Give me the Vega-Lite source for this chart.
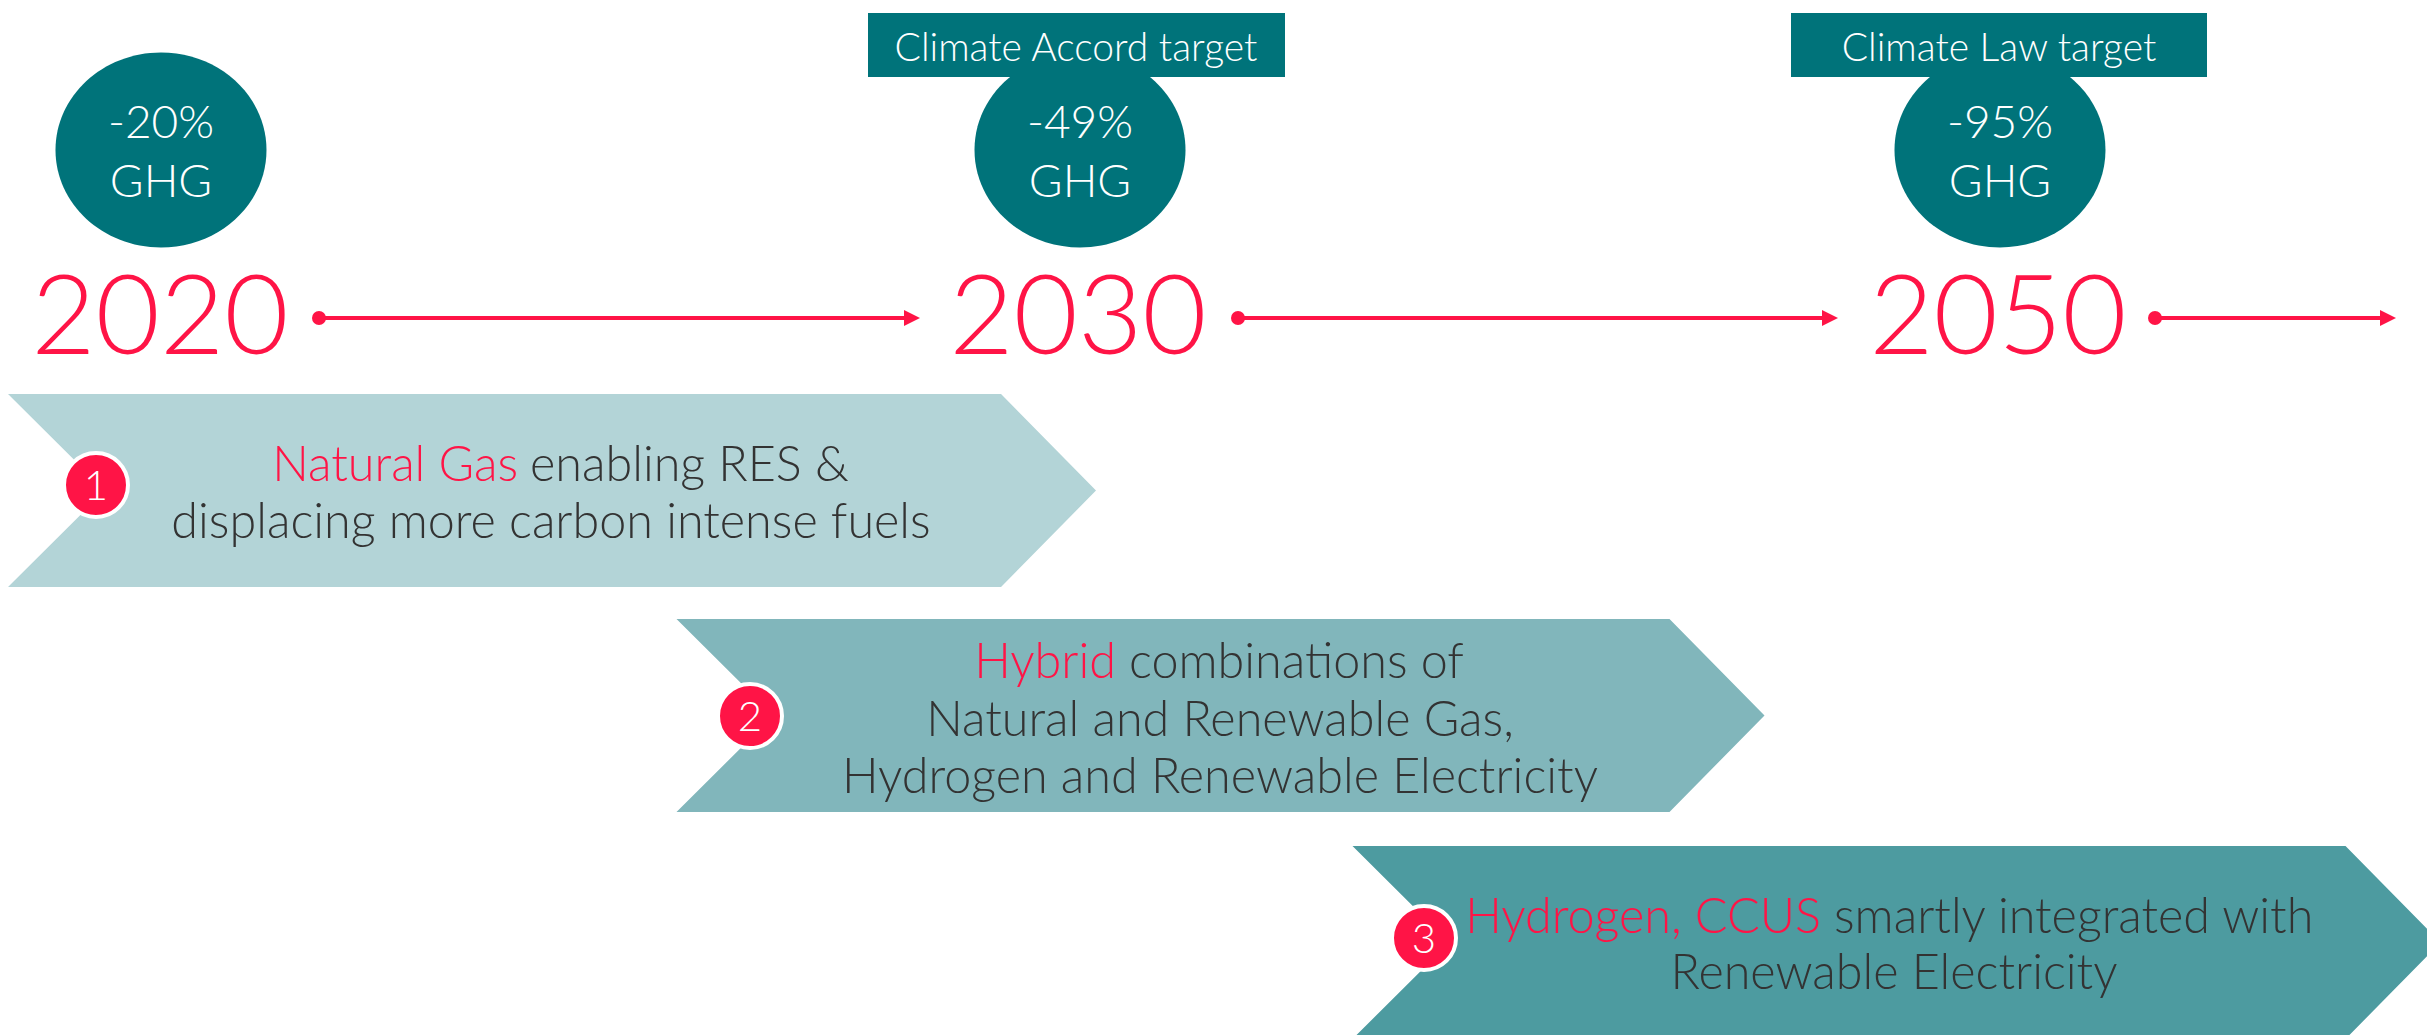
{
  "$schema": "https://vega.github.io/schema/vega-lite/v6.json",
  "width": 2427,
  "height": 1035,
  "autosize": {"type": "none"},
  "padding": 0,
  "background": "white",
  "config": {"view": {"stroke": null}, "text": {"font": "Lato", "fontWeight": 300}},
  "datasets": {
    "chevrons": [
      {"step": "1", "x": 552, "y": 490.5},
      {"step": "2", "x": 1220.5, "y": 715.5},
      {"step": "3", "x": 1896.5, "y": 942.5}
    ],
    "badges": [
      {"num": "1", "x": 96, "y": 485},
      {"num": "2", "x": 750, "y": 716},
      {"num": "3", "x": 1424, "y": 938}
    ],
    "ellipses": [
      {"year": "2020", "x": 161, "y": 150},
      {"year": "2030", "x": 1080, "y": 150},
      {"year": "2050", "x": 2000, "y": 150}
    ],
    "ghg": [
      {"text": "-20%", "x": 161, "y": 138},
      {"text": "GHG", "x": 161, "y": 197},
      {"text": "-49%", "x": 1080, "y": 138},
      {"text": "GHG", "x": 1080, "y": 197},
      {"text": "-95%", "x": 2000, "y": 138},
      {"text": "GHG", "x": 2000, "y": 197}
    ],
    "boxes": [
      {"label": "Climate Accord target", "x": 868, "x2": 1285, "y": 13, "y2": 77, "tx": 1076, "ty": 61},
      {"label": "Climate Law target", "x": 1791, "x2": 2207, "y": 13, "y2": 77, "tx": 1999, "ty": 61}
    ],
    "years": [
      {"year": "2020", "x": 160, "y": 354},
      {"year": "2030", "x": 1078, "y": 354},
      {"year": "2050", "x": 1998, "y": 354}
    ],
    "arrows": [
      {"x": 319, "x2": 912, "y": 318},
      {"x": 1238, "x2": 1830, "y": 318},
      {"x": 2155, "x2": 2388, "y": 318}
    ],
    "heads": [
      {"x": 912, "y": 318},
      {"x": 1830, "y": 318},
      {"x": 2388, "y": 318}
    ],
    "redText": [
      {"text": "Natural Gas", "x": 518, "y": 481},
      {"text": "Hybrid", "x": 1116, "y": 678},
      {"text": "Hydrogen, CCUS", "x": 1821, "y": 933}
    ],
    "grayLeft": [
      {"text": "enabling RES &", "x": 530, "y": 481},
      {"text": "combinations of", "x": 1129, "y": 678},
      {"text": "smartly integrated with", "x": 1834, "y": 933}
    ],
    "grayCenter": [
      {"text": "displacing more carbon intense fuels", "x": 551, "y": 538},
      {"text": "Natural and Renewable Gas,", "x": 1220, "y": 736},
      {"text": "Hydrogen and Renewable Electricity", "x": 1220, "y": 793},
      {"text": "Renewable Electricity", "x": 1894, "y": 989}
    ]
  },
  "encoding": {
    "x": {"field": "x", "type": "quantitative", "scale": {"domain": [0, 2427], "nice": false, "zero": false}, "axis": null},
    "y": {"field": "y", "type": "quantitative", "scale": {"domain": [0, 1035], "nice": false, "zero": false, "reverse": true}, "axis": null}
  },
  "layer": [
    {
      "data": {"name": "chevrons"},
      "mark": {"type": "point", "filled": true, "opacity": 1, "strokeWidth": 0, "size": 1183744,
               "shape": "M -1 -0.1774 L 0.8254 -0.1774 L 1 0 L 0.8254 0.1774 L -1 0.1774 L -0.8217 0 Z"},
      "encoding": {
        "color": {"field": "step", "type": "nominal", "scale": {"domain": ["1", "2", "3"], "range": ["#B3D4D7", "#81B6BB", "#4D9BA0"]}, "legend": null}
      }
    },
    {
      "data": {"name": "badges"},
      "mark": {"type": "point", "shape": "circle", "filled": true, "opacity": 1, "fill": "#FF1446", "stroke": "white", "strokeWidth": 4, "size": 4096}
    },
    {
      "data": {"name": "badges"},
      "mark": {"type": "text", "color": "white", "fontSize": 42, "baseline": "middle", "align": "center", "dy": 2},
      "encoding": {"text": {"field": "num"}}
    },
    {
      "data": {"name": "ellipses"},
      "mark": {"type": "point", "filled": true, "opacity": 1, "color": "#00737A", "strokeWidth": 0, "size": 44521,
               "shape": "M -1 0 A 1 0.924 0 1 1 1 0 A 1 0.924 0 1 1 -1 0 Z"}
    },
    {
      "data": {"name": "boxes"},
      "mark": {"type": "rect", "color": "#00737A"},
      "encoding": {"x2": {"field": "x2"}, "y2": {"field": "y2"}}
    },
    {
      "data": {"name": "boxes"},
      "mark": {"type": "text", "color": "white", "fontSize": 39, "align": "center", "baseline": "alphabetic"},
      "encoding": {"x": {"field": "tx", "type": "quantitative"}, "y": {"field": "ty", "type": "quantitative"}, "text": {"field": "label"}}
    },
    {
      "data": {"name": "ghg"},
      "mark": {"type": "text", "color": "white", "fontSize": 46, "align": "center", "baseline": "alphabetic"},
      "encoding": {"text": {"field": "text"}}
    },
    {
      "data": {"name": "years"},
      "mark": {"type": "text", "color": "#FF1446", "fontSize": 111, "align": "center", "baseline": "alphabetic"},
      "encoding": {"text": {"field": "year"}}
    },
    {
      "data": {"name": "arrows"},
      "mark": {"type": "rule", "color": "#FF1446", "strokeWidth": 4},
      "encoding": {"x2": {"field": "x2"}}
    },
    {
      "data": {"name": "arrows"},
      "mark": {"type": "point", "shape": "circle", "filled": true, "opacity": 1, "color": "#FF1446", "size": 196}
    },
    {
      "data": {"name": "heads"},
      "mark": {"type": "point", "filled": true, "opacity": 1, "color": "#FF1446", "size": 256, "shape": "M -1 -1 L 1 0 L -1 1 Z"}
    },
    {
      "data": {"name": "redText"},
      "mark": {"type": "text", "color": "#FF1446", "fontSize": 48.5, "align": "right", "baseline": "alphabetic"},
      "encoding": {"text": {"field": "text"}}
    },
    {
      "data": {"name": "grayLeft"},
      "mark": {"type": "text", "color": "#333333", "fontSize": 48.5, "align": "left", "baseline": "alphabetic"},
      "encoding": {"text": {"field": "text"}}
    },
    {
      "data": {"name": "grayCenter"},
      "mark": {"type": "text", "color": "#333333", "fontSize": 48.5, "align": "center", "baseline": "alphabetic"},
      "encoding": {"text": {"field": "text"}}
    }
  ]
}
